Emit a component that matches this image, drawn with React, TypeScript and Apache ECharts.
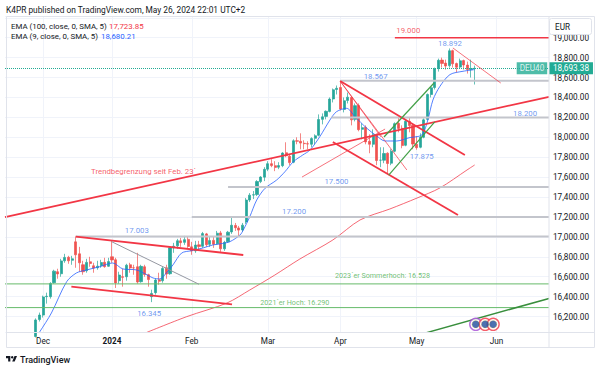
import { useEffect, useRef } from "react";
import * as echarts from "echarts";

const FONT = 'Roboto, "Liberation Sans", Arial, sans-serif';

// ---------- categories (trading days) ----------
const DATES = [
  "2023-11-17", "2023-11-20", "2023-11-21", "2023-11-22", "2023-11-23", "2023-11-24", "2023-11-27", "2023-11-28", "2023-11-29", "2023-11-30",
  "2023-12-01", "2023-12-04", "2023-12-05", "2023-12-06", "2023-12-07", "2023-12-08", "2023-12-11", "2023-12-12", "2023-12-13", "2023-12-14",
  "2023-12-15", "2023-12-18", "2023-12-19", "2023-12-20", "2023-12-21", "2023-12-22", "2023-12-27", "2023-12-28", "2023-12-29",
  "2024-01-02", "2024-01-03", "2024-01-04", "2024-01-05", "2024-01-08", "2024-01-09", "2024-01-10", "2024-01-11", "2024-01-12",
  "2024-01-15", "2024-01-16", "2024-01-17", "2024-01-18", "2024-01-19", "2024-01-22", "2024-01-23", "2024-01-24", "2024-01-25",
  "2024-01-26", "2024-01-29", "2024-01-30", "2024-01-31",
  "2024-02-01", "2024-02-02", "2024-02-05", "2024-02-06", "2024-02-07", "2024-02-08", "2024-02-09", "2024-02-12", "2024-02-13",
  "2024-02-14", "2024-02-15", "2024-02-16", "2024-02-19", "2024-02-20", "2024-02-21", "2024-02-22", "2024-02-23", "2024-02-26",
  "2024-02-27", "2024-02-28", "2024-02-29",
  "2024-03-01", "2024-03-04", "2024-03-05", "2024-03-06", "2024-03-07", "2024-03-08", "2024-03-11", "2024-03-12", "2024-03-13",
  "2024-03-14", "2024-03-15", "2024-03-18", "2024-03-19", "2024-03-20", "2024-03-21", "2024-03-22", "2024-03-25", "2024-03-26",
  "2024-03-27", "2024-03-28",
  "2024-04-02", "2024-04-03", "2024-04-04", "2024-04-05", "2024-04-08", "2024-04-09", "2024-04-10", "2024-04-11", "2024-04-12",
  "2024-04-15", "2024-04-16", "2024-04-17", "2024-04-18", "2024-04-19", "2024-04-22", "2024-04-23", "2024-04-24", "2024-04-25",
  "2024-04-26", "2024-04-29", "2024-04-30",
  "2024-05-02", "2024-05-03", "2024-05-06", "2024-05-07", "2024-05-08", "2024-05-09", "2024-05-10", "2024-05-13", "2024-05-14",
  "2024-05-15", "2024-05-16", "2024-05-17", "2024-05-20", "2024-05-21", "2024-05-22", "2024-05-23", "2024-05-24", "2024-05-27",
  "2024-05-28", "2024-05-29", "2024-05-30", "2024-05-31",
  "2024-06-03", "2024-06-04", "2024-06-05", "2024-06-06", "2024-06-07", "2024-06-10", "2024-06-11", "2024-06-12", "2024-06-13",
  "2024-06-14", "2024-06-17", "2024-06-18", "2024-06-19", "2024-06-20", "2024-06-21",
];

const MONTH_TICK_INDEX = [10, 29, 51, 72, 92, 113, 135];
const MONTH_TICK_TEXT = ["Dec", "2024", "Feb", "Mar", "Apr", "May", "Jun"];

// ---------- candles: [open, close, low, high] ----------
const OHLC: (number[] | string)[] = [
  "-", "-", "-", "-", "-", "-", "-",
  [15966, 15992, 15925, 16010], [16000, 16166, 15990, 16182], [16170, 16215, 16150, 16240],
  [16215, 16397, 16190, 16410], [16400, 16404, 16330, 16440], [16400, 16533, 16380, 16545], [16540, 16656, 16530, 16670],
  [16650, 16628, 16580, 16680], [16630, 16759, 16600, 16780], [16760, 16794, 16740, 16830], [16795, 16760, 16730, 16810],
  [16765, 16780, 16720, 16810], [16950, 16820, 16690, 17003], [16830, 16740, 16650, 16900], [16720, 16650, 16620, 16760],
  [16660, 16744, 16640, 16780], [16750, 16733, 16700, 16800], [16710, 16687, 16640, 16740], [16690, 16706, 16670, 16760],
  [16710, 16742, 16690, 16770], [16745, 16701, 16690, 16790], [16705, 16752, 16700, 16790],
  [16800, 16769, 16740, 16962], [16770, 16538, 16487, 16790], [16560, 16617, 16530, 16650], [16600, 16594, 16500, 16680],
  [16600, 16716, 16560, 16730], [16720, 16688, 16640, 16740], [16690, 16689, 16620, 16720], [16700, 16547, 16530, 16840],
  [16550, 16704, 16540, 16720], [16700, 16622, 16600, 16720], [16620, 16572, 16500, 16630], [16400, 16432, 16345, 16470],
  [16440, 16567, 16420, 16580], [16570, 16555, 16520, 16640], [16560, 16683, 16540, 16700], [16690, 16627, 16580, 16720],
  [16630, 16890, 16620, 16900], [16890, 16907, 16840, 16940], [16910, 16961, 16880, 16980], [16960, 16942, 16900, 16990],
  [16945, 16972, 16920, 17010], [16975, 16904, 16890, 17000],
  [16900, 16859, 16820, 16950], [16860, 16918, 16840, 16960], [16920, 16904, 16860, 16960], [16905, 17033, 16890, 17050],
  [17030, 16921, 16900, 17040], [16925, 16963, 16900, 17000], [16965, 16926, 16890, 17000], [16930, 17037, 16920, 17060],
  [17040, 16880, 16850, 17060], [16880, 16945, 16860, 16960], [16950, 17047, 16940, 17060], [17050, 17117, 17030, 17198],
  [17115, 17092, 17060, 17140], [17090, 17068, 17000, 17110], [17070, 17118, 17050, 17140], [17150, 17370, 17130, 17390],
  [17370, 17419, 17350, 17440], [17420, 17423, 17380, 17460], [17425, 17556, 17410, 17570], [17555, 17601, 17540, 17610],
  [17600, 17678, 17560, 17700],
  [17680, 17735, 17660, 17760], [17735, 17716, 17700, 17780], [17715, 17698, 17660, 17760], [17700, 17716, 17680, 17750],
  [17715, 17842, 17700, 17850], [17845, 17815, 17800, 17950], [17810, 17746, 17720, 17830], [17750, 17965, 17740, 17980],
  [17965, 17961, 17930, 18000], [17960, 17942, 17880, 18040], [17940, 17936, 17880, 17970], [17935, 17933, 17880, 17960],
  [17930, 17987, 17900, 18000], [17990, 18015, 17930, 18030], [18020, 18179, 18010, 18230], [18180, 18206, 18130, 18240],
  [18210, 18261, 18180, 18270], [18260, 18384, 18250, 18400], [18385, 18477, 18350, 18490], [18480, 18492, 18430, 18520],
  [18500, 18283, 18270, 18567], [18280, 18367, 18250, 18400], [18370, 18403, 18340, 18450], [18400, 18175, 18120, 18410],
  [18180, 18318, 18160, 18340], [18320, 18077, 18060, 18340], [18080, 18097, 17980, 18140], [18100, 17954, 17930, 18120],
  [17960, 17930, 17840, 18030], [17930, 18026, 17900, 18080], [18020, 17767, 17720, 18030], [17770, 17770, 17700, 17900],
  [17770, 17837, 17740, 17900], [17840, 17737, 17630, 17850], [17740, 17860, 17720, 17880], [17860, 18137, 17850, 18150],
  [18140, 18089, 18050, 18200], [18090, 17917, 17890, 18120], [17920, 18161, 17910, 18180], [18160, 18118, 18050, 18200],
  [18120, 17932, 17880, 18140],
  [17930, 17896, 17875, 18010], [17900, 18001, 17890, 18040], [18000, 18175, 17990, 18190], [18180, 18430, 18170, 18440],
  [18430, 18498, 18400, 18510], [18500, 18686, 18480, 18700], [18690, 18773, 18660, 18790], [18775, 18742, 18700, 18800],
  [18745, 18716, 18680, 18780], [18720, 18869, 18700, 18892], [18870, 18738, 18700, 18880], [18740, 18704, 18650, 18750],
  [18705, 18768, 18690, 18790], [18770, 18726, 18680, 18780], [18725, 18680, 18640, 18760], [18680, 18691, 18600, 18780],
  [18690, 18693, 18530, 18720],
];

// ---------- indicators: [bar index, value] ----------
const EMA9 = [
  [8.5, 16017], [9.1, 16048], [12.3, 16236], [16.5, 16550], [19.2, 16638], [22.0, 16668], [25.6, 16701], [29.2, 16738],
  [32.0, 16678], [35.8, 16668], [40.3, 16588], [42.2, 16578], [44.0, 16638], [45.8, 16718], [48.2, 16838], [50.9, 16861],
  [54.1, 16889], [56.8, 16919], [58.7, 16929], [61.5, 16952], [64.3, 17019], [65.2, 17069], [67.0, 17203], [68.9, 17370],
  [71.2, 17488], [74.4, 17571], [76.7, 17655], [79.0, 17755], [81.6, 17822], [83.6, 17872], [86.3, 18006], [89.1, 18174],
  [90.9, 18257], [93.7, 18291], [96.0, 18207], [99.2, 18093], [102.0, 18013], [104.3, 17963], [107.5, 17963], [111.2, 17998],
  [113.4, 18008], [114.7, 18033], [116.1, 18174], [117.5, 18375], [119.4, 18510], [122.2, 18630], [125.8, 18663], [129.0, 18680],
];
const EMA100 = [
  [37.5, 16025], [49.6, 16199], [60.7, 16336], [67.0, 16467], [73.9, 16617], [80.8, 16778], [89.9, 16969],
  [97.4, 17170], [105.6, 17280], [113.1, 17390], [119.4, 17491], [126.9, 17672], [129.0, 17722],
];
const LAST_PRICE = 18693.38;
const EMA100_LAST = "17,723.85";
const EMA9_LAST = "18,680.21";

// ---------- drawings: [bar index, price] ----------
const TREND_FEB23 = [[-0.5, 17198], [149.5, 18407]];
const DEC_UPPER = [[19, 17003], [65.2, 16818]];
const DEC_LOWER = [[17.8, 16500], [62.1, 16323]];
const DEC_FAN = [[28.9, 16952], [53.0, 16524]];
const APR_UPPER = [[91.9, 18565], [126.3, 17822]];
const APR_LOWER = [[89.9, 17953], [124.4, 17220]];
const APR_FAN_A = [[91.9, 18565], [110.3, 17672]];
const APR_FAN_B = [[91.9, 18565], [103.2, 18003]];
const RISE_THIN = [[81.4, 17601], [104.3, 18083]];
const MAY_FAN = [[123.0, 18897], [136.2, 18545]];
const GREEN_UP = [[104.0, 18003], [117.8, 18545]];
const GREEN_LOW = [[105.3, 17621], [118.0, 18154]];
const GREEN_LONG = [[115.5, 16036], [149.5, 16382]];
const LEVEL_17003 = [[19, 17003], [149.5, 17003]];
const LEVEL_17200 = [[51, 17200], [149.5, 17200]];
const LEVEL_17500 = [[61, 17500], [149.5, 17500]];
const LEVEL_18200 = [[89.5, 18200], [149.5, 18200]];
const LEVEL_18567 = [[92, 18567], [149.5, 18567]];
const LEVEL_19000 = [[107, 19000], [149.5, 19000]];
const LEVEL_16528 = [[-0.5, 16528], [149.5, 16528]];
const LEVEL_16290 = [[-0.5, 16290], [149.5, 16290]];

// ---------- annotations: [text, bar index, price] ----------
const BLUE_NOTES: [string, number, number][] = [
  ["17.003", 35.85, 17061], ["16.345", 39.24, 16233], ["17.200", 79.2, 17250], ["17.500", 90.9, 17561],
  ["18.567", 101.7, 18615], ["18.200", 142.9, 18244], ["17.875", 114.4, 17812], ["18.892", 122.2, 18944],
];
const RED_NOTES: [string, number, number][] = [
  ["19.000", 110.7, 19070], ["Trendbegrenzung seit Feb. 23´", 37.7, 17660],
];
const GREEN_NOTES: [string, number, number][] = [
  ["2023´er Sommerhoch: 16.528", 103.6, 16610], ["2021´er Hoch: 16.290", 79.4, 16346],
];
const EVENTS = [[129.3, 16122], [131.9, 16122], [134.1, 16122]];

const fmt = (v: number) => v.toLocaleString("en-US", { minimumFractionDigits: 2, maximumFractionDigits: 2 });

function seg(data: number[][], color: string, width: number, opacity = 1, type = "solid") {
  return {
    type: "line", xAxisIndex: 1, yAxisIndex: 0, data, symbol: "none", silent: true, z: 5,
    lineStyle: { color, width, type, opacity }, clip: true,
  };
}
function notes(items: [string, number, number][], color: string, size: number) {
  return {
    type: "scatter", xAxisIndex: 1, yAxisIndex: 0, silent: true, z: 6, symbolSize: 0.01,
    itemStyle: { color: "transparent" },
    data: items.map(([t, x, y]) => ({ value: [x, y], label: { formatter: t } })),
    label: { show: true, position: "inside", color, fontSize: size, fontFamily: FONT },
  };
}

export default function App() {
  const ref = useRef<HTMLDivElement>(null);
  useEffect(() => {
    document.body.style.margin = "0";
    if (!ref.current) return;
    echarts.graphic.registerShape(
      "tvlogo",
      echarts.graphic.extendPath("M14 22H7V11H0V4h14v18zM28 22h-8l7.5-18h8L28 22z", {})
    );
    const chart = echarts.init(ref.current, null, { renderer: "svg" });
    const labelMap: Record<string, string> = {};
    MONTH_TICK_INDEX.forEach((i, k) => (labelMap[DATES[i]] = MONTH_TICK_TEXT[k]));

    const option: any = {
      animation: false,
      backgroundColor: "#ffffff",
      textStyle: { fontFamily: FONT },
      grid: { left: 5, right: 51, top: 16, bottom: 38 },
      xAxis: [
        {
          type: "category", data: DATES, boundaryGap: true,
          axisLine: { show: false }, axisTick: { show: false }, splitLine: { show: false },
          axisLabel: {
            interval: (i: number) => MONTH_TICK_INDEX.includes(i),
            formatter: (v: string) => (labelMap[v] === "2024" ? "{b|2024}" : labelMap[v] || ""),
            color: "#131722", fontSize: 8.2, margin: 5, fontFamily: FONT,
            rich: { b: { fontWeight: "bold", color: "#131722", fontSize: 8.2, fontFamily: FONT } },
          },
        },
        { type: "value", min: -0.5, max: 149.5, show: false },
      ],
      yAxis: {
        type: "value", position: "right", min: 16045, max: 19218, splitNumber: 16,
        minInterval: 200, maxInterval: 200,
        axisLine: { show: false }, axisTick: { show: false },
        splitLine: { show: true, lineStyle: { color: "#f0f3fa", width: 1 } },
        axisLabel: {
          showMinLabel: false, showMaxLabel: false, color: "#131722", fontSize: 8.2, margin: 4, fontFamily: FONT,
          formatter: (v: number) => (v > 19100 ? "" : fmt(v)),
        },
      },
      series: [
        {
          type: "line", xAxisIndex: 1, yAxisIndex: 0, data: [[-0.5, 15000], [0, 15000]], symbol: "none", silent: true, z: 1,
          lineStyle: { opacity: 0 },
          markLine: {
            silent: true, symbol: "none", z: 1, label: { show: false },
            lineStyle: { color: "#f0f3fa", type: "solid", width: 1 },
            data: MONTH_TICK_INDEX.map((i) => ({ xAxis: i })),
          },
        },
        {
          type: "candlestick", xAxisIndex: 0, yAxisIndex: 0, data: OHLC, barWidth: "72%", z: 3,
          itemStyle: { color: "#26a69a", color0: "#ef5350", borderColor: "#26a69a", borderColor0: "#ef5350", borderWidth: 0.7 },
          markLine: {
            silent: true, symbol: "none",
            lineStyle: { color: "#22ab94", type: "dotted", width: 1 },
            label: {
              show: true, position: "end", distance: 0, formatter: fmt(LAST_PRICE), color: "#ffffff",
              backgroundColor: "#22ab94", padding: [2, 4, 2, 4], fontSize: 8.2, fontFamily: FONT,
            },
            data: [{ yAxis: LAST_PRICE }],
          },
        },
        { ...seg(EMA100, "#f23645", 1, 0.75), smooth: 0.3, z: 4 },
        { ...seg(EMA9, "#2962ff", 1, 0.8), smooth: 0.3, z: 4 },
        seg(LEVEL_17003, "#c3c5cc", 2),
        seg(LEVEL_17200, "#c3c5cc", 2),
        seg(LEVEL_17500, "#c3c5cc", 2),
        seg(LEVEL_18200, "#c3c5cc", 2),
        seg(LEVEL_18567, "#c3c5cc", 2),
        seg(LEVEL_19000, "#f23645", 1.5),
        seg(LEVEL_16528, "#66bb6a", 1),
        seg(LEVEL_16290, "#66bb6a", 1),
        seg(TREND_FEB23, "#f23645", 1.8),
        seg(DEC_UPPER, "#f23645", 1.8),
        seg(DEC_LOWER, "#f23645", 1.8),
        seg(DEC_FAN, "#9598a1", 1),
        seg(APR_UPPER, "#f23645", 1.8),
        seg(APR_LOWER, "#f23645", 1.8),
        seg(APR_FAN_A, "#f23645", 1, 0.7),
        seg(APR_FAN_B, "#f23645", 1, 0.7),
        seg(RISE_THIN, "#f23645", 1, 0.7),
        seg(MAY_FAN, "#f23645", 1, 0.7),
        seg(GREEN_UP, "#43a047", 1.2),
        seg(GREEN_LOW, "#43a047", 1.2),
        seg(GREEN_LONG, "#388e3c", 1.5),
        notes(BLUE_NOTES, "#4d80ec", 7.8),
        notes(RED_NOTES, "#f23645", 7.8),
        notes(GREEN_NOTES, "#4caf50", 7.2),
        {
          type: "scatter", xAxisIndex: 1, yAxisIndex: 0, silent: true, z: 6, symbolSize: 0.01,
          itemStyle: { color: "transparent" },
          data: [{ value: [144.8, LAST_PRICE] }],
          label: {
            show: true, position: "inside", formatter: "DEU40", color: "#ffffff", backgroundColor: "#22ab94",
            padding: [2, 3, 2, 3], fontSize: 8.2, fontFamily: FONT,
          },
        },
        {
          type: "scatter", xAxisIndex: 1, yAxisIndex: 0, silent: true, z: 7, symbol: "circle", symbolSize: 12,
          data: EVENTS.map((p, i) => ({
            value: p,
            itemStyle: { color: "#ffffff", borderColor: i === 0 ? "#a54bd6" : "#f23645", borderWidth: 1.4 },
          })),
        },
        {
          type: "scatter", xAxisIndex: 1, yAxisIndex: 0, silent: true, z: 8, symbol: "circle", symbolSize: 7.5,
          itemStyle: { color: "#1f4e9c", borderColor: "#f2c230", borderWidth: 0.6, borderType: "dotted" },
          data: EVENTS,
        },
      ],
      graphic: [
        { type: "rect", shape: { x: 0, y: 0, width: 600, height: 16 }, style: { fill: "#ffffff" }, z: 0, silent: true },
        {
          type: "text", x: 6, y: 10, silent: true,
          style: { text: "K4PR published on TradingView.com, May 26, 2024 22:01 UTC+2", fill: "#131722", fontSize: 8.35, fontFamily: FONT, verticalAlign: "middle" },
        },
        { type: "rect", shape: { x: 6.5, y: 16.5, width: 588, height: 331 }, style: { fill: "none", stroke: "#e0e3eb", lineWidth: 1 }, silent: true, z: 10 },
        { type: "line", shape: { x1: 6, y1: 332.5, x2: 595, y2: 332.5 }, style: { stroke: "#e0e3eb", lineWidth: 1 }, silent: true, z: 10 },
        { type: "line", shape: { x1: 549, y1: 16, x2: 549, y2: 348 }, style: { stroke: "#e0e3eb", lineWidth: 1 }, silent: true, z: 10 },
        {
          type: "text", x: 11, y: 26, silent: true, z: 10,
          style: { text: "EMA (100, close, 0, SMA, 5)", fill: "#131722", fontSize: 7.9, fontFamily: FONT, verticalAlign: "middle" },
        },
        {
          type: "text", x: 109, y: 26, silent: true, z: 10,
          style: { text: EMA100_LAST, fill: "#f23645", fontSize: 7.9, fontFamily: FONT, verticalAlign: "middle" },
        },
        {
          type: "text", x: 11, y: 36, silent: true, z: 10,
          style: { text: "EMA (9, close, 0, SMA, 5)", fill: "#131722", fontSize: 7.9, fontFamily: FONT, verticalAlign: "middle" },
        },
        {
          type: "text", x: 101, y: 36, silent: true, z: 10,
          style: { text: EMA9_LAST, fill: "#2962ff", fontSize: 7.9, fontFamily: FONT, verticalAlign: "middle" },
        },
        {
          type: "rect", z: 20, silent: true, shape: { x: 549.5, y: 18.5, width: 42, height: 16, r: 2 },
          style: { fill: "#ffffff", stroke: "#e0e3eb", lineWidth: 1 },
        },
        {
          type: "text", x: 555, y: 26.5, z: 21, silent: true,
          style: { text: "EUR", fill: "#131722", fontSize: 8.2, fontFamily: FONT, verticalAlign: "middle" },
        },
        { type: "tvlogo", x: 6, y: 354.8, scaleX: 0.31, scaleY: 0.31, style: { fill: "#131722" }, silent: true },
        { type: "circle", shape: { cx: 6 + 20 * 0.31, cy: 354.8 + 8 * 0.31, r: 4 * 0.31 }, style: { fill: "#131722" }, silent: true },
        {
          type: "text", x: 20, y: 359.5, silent: true,
          style: { text: "TradingView", fill: "#131722", fontSize: 9, fontWeight: 500, fontFamily: FONT, verticalAlign: "middle" },
        },
      ],
    };
    chart.setOption(option);
    return () => chart.dispose();
  }, []);
  return <div ref={ref} style={{ width: 600, height: 370 }} />;
}
